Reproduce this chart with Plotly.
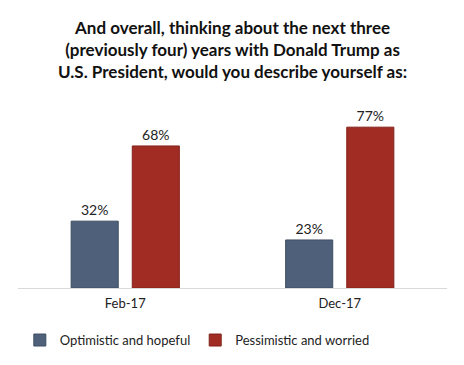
import plotly.graph_objects as go

categories = ["Feb-17", "Dec-17"]
optimistic = [32, 23]
pessimistic = [68, 77]
series_names = ["Optimistic and hopeful", "Pessimistic and worried"]
title_lines = [
    "And overall, thinking about the next three",
    "(previously four) years with Donald Trump as",
    "U.S. President, would you describe yourself as:",
]

FONT = "Lato, Open Sans, sans-serif"

fig = go.Figure()
fig.add_trace(go.Bar(
    x=categories, y=optimistic, name=series_names[0],
    marker=dict(color="#4F617A", line=dict(color="#3E4D61", width=1)),
    text=[f"{v}%" for v in optimistic], textposition="outside",
    textfont=dict(size=14, color="#222222", family=FONT), cliponaxis=False,
))
fig.add_trace(go.Bar(
    x=categories, y=pessimistic, name=series_names[1],
    marker=dict(color="#A02C24", line=dict(color="#83221B", width=1)),
    text=[f"{v}%" for v in pessimistic], textposition="outside",
    textfont=dict(size=14, color="#222222", family=FONT), cliponaxis=False,
))

fig.add_annotation(
    text="<br>".join(title_lines), xref="paper", yref="paper",
    x=0.5, y=1.268, xanchor="center", yanchor="middle", showarrow=False,
    font=dict(size=17, family=FONT, color="#111111", weight="bold"),
)

fig.update_layout(
    width=464, height=365,
    margin=dict(l=10, r=25, t=92, b=85, autoexpand=False),
    paper_bgcolor="white", plot_bgcolor="white",
    barmode="group", bargap=0.43, bargroupgap=0.23,
    font=dict(family=FONT, color="#222222"),
    xaxis=dict(showline=True, linecolor="#D9D9D9", linewidth=1, ticks="",
               ticklabelstandoff=3,
               tickfont=dict(size=13, family=FONT, color="#222222")),
    yaxis=dict(range=[0, 90], visible=False),
    legend=dict(orientation="h", x=0.418, xanchor="center", y=-0.277, yanchor="middle",
                font=dict(size=13, family=FONT, color="#222222"),
                itemwidth=30, traceorder="normal"),
    showlegend=True,
)

fig.write_html("out.html")
